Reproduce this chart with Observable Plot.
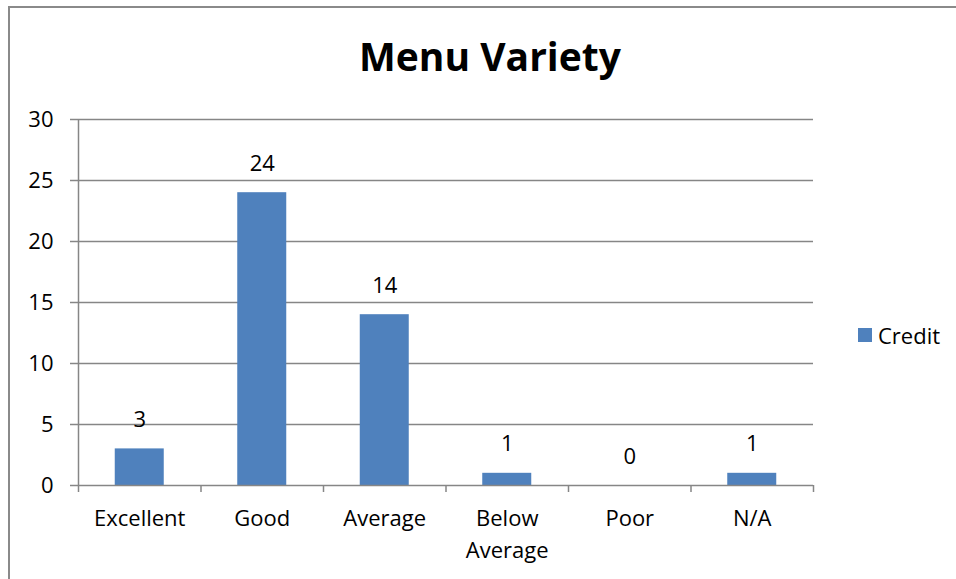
<!DOCTYPE html>
<html>
<head>
<meta charset="utf-8">
<script src="https://cdn.jsdelivr.net/npm/d3@7"></script>
<script src="https://cdn.jsdelivr.net/npm/@observablehq/plot@0.6"></script>
<style>
  html, body { margin: 0; padding: 0; background: #fff; }
  #wrap { position: relative; width: 956px; height: 579px; overflow: hidden; font-family: "Open Sans", sans-serif; }
  #frame { position: absolute; left: 8px; top: 6px; width: 1000px; height: 1000px; border: 2px solid #8a8a8a; box-sizing: border-box; }
  #title { position: absolute; left: 290px; top: 36px; width: 400px; text-align: center; font-weight: bold; font-size: 39px; line-height: 1; color: #000; }
  #chart { position: absolute; left: 0; top: 0; }
</style>
</head>
<body>
<div id="wrap">
  <div id="frame"></div>
  <div id="chart"></div>
  <div id="title">Menu Variety</div>
</div>
<script>
const categories = ["Excellent", "Good", "Average", "Below\nAverage", "Poor", "N/A"];
const values = [3, 24, 14, 1, 0, 1];
const yTicks = [0, 5, 10, 15, 20, 25, 30];
const seriesName = "Credit";

const data = categories.map((c, i) => ({i, c, v: values[i]}));
const boundaries = d3.range(categories.length + 1);

const plot = Plot.plot({
  width: 956,
  height: 579,
  marginLeft: 78,
  marginRight: 143,
  marginTop: 119,
  marginBottom: 94,
  style: {fontFamily: "'Open Sans', sans-serif", fontSize: "22px", color: "#000", background: "transparent", overflow: "visible"},
  x: {type: "linear", domain: [0, categories.length], axis: null},
  y: {type: "linear", domain: [0, 30], axis: null},
  marks: [
    Plot.ruleY(yTicks.filter(d => d > 0), {stroke: "#868686", strokeWidth: 1.5, strokeOpacity: 1}),
    Plot.rectY(data, {x1: d => d.i + 0.3, x2: d => d.i + 0.7, y: "v", fill: "#4F81BD"}),
    Plot.ruleY([0], {stroke: "#868686", strokeWidth: 1.5}),
    Plot.ruleX([0], {stroke: "#868686", strokeWidth: 1.5}),
    Plot.ruleY(yTicks, {y: d => d, x1: 0, x2: 0, insetLeft: -8, stroke: "#868686", strokeWidth: 1.5}),
    Plot.text(yTicks, {x: 0, y: d => d, text: d => String(d), textAnchor: "end", dx: -25, fontSize: 22, fill: "#000"}),
    Plot.ruleX(boundaries, {x: d => d, y1: 0, y2: 0, stroke: "#868686", strokeWidth: 1.5, insetBottom: -7}),
    Plot.text(data, {x: d => d.i + 0.5, y: 0, text: "c", lineAnchor: "top", dy: 18, fontSize: 22, lineHeight: 1.45, fill: "#000"}),
    Plot.text(data, {x: d => d.i + 0.5, y: "v", text: d => String(d.v), lineAnchor: "bottom", dy: -22, fontSize: 22, fill: "#000"})
  ]
});
document.getElementById("chart").appendChild(plot);

// legend
const legend = document.createElement("div");
legend.style.cssText = "position:absolute;left:858px;top:319px;display:flex;align-items:center;font-size:22px;line-height:32px;color:#000;";
legend.innerHTML = `<span style="display:inline-block;width:14px;height:14px;background:#4F81BD;margin-right:6px"></span><span>${seriesName}</span>`;
document.getElementById("wrap").appendChild(legend);
</script>
</body>
</html>
